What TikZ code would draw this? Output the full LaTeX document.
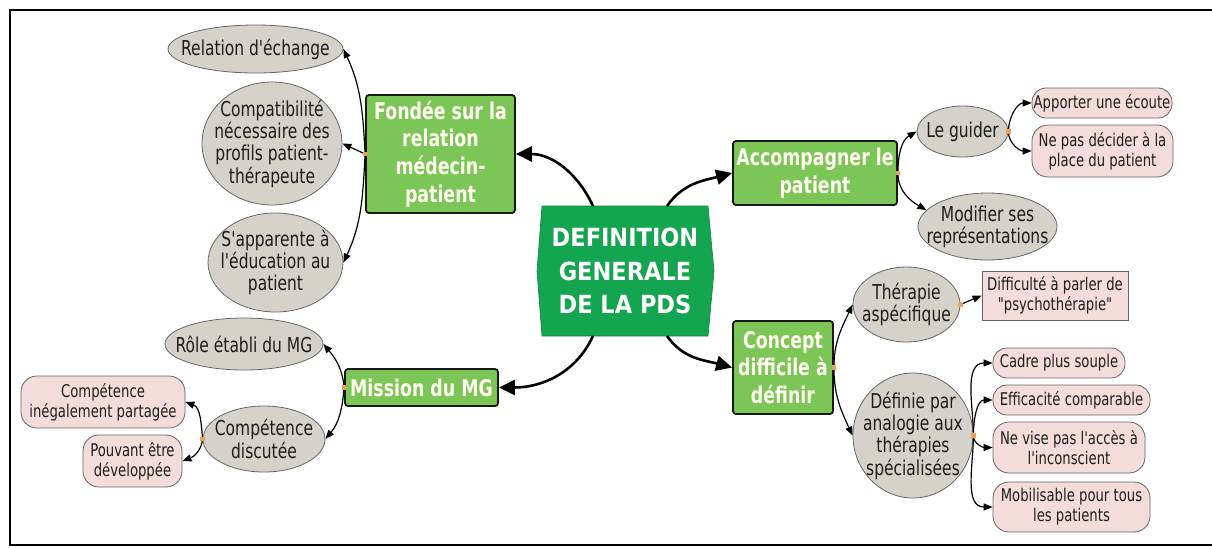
\documentclass[tikz,border=0pt]{standalone}
\usepackage{fontspec}
\setmainfont{DejaVu Sans Condensed}[FakeStretch=0.84, Ligatures=TeXOff]
\newfontfamily\centerfont{DejaVu Sans Condensed}[Ligatures=TeXOff]
\usetikzlibrary{arrows.meta,shapes.geometric}
\definecolor{cgreen}{HTML}{13A54F}
\definecolor{lgreen}{HTML}{7CC657}
\definecolor{egray}{HTML}{D5D2C9}
\definecolor{pinkf}{HTML}{F4DCDB}
\definecolor{dotor}{HTML}{F0A050}
\definecolor{txtg}{HTML}{1E1E1E}
\tikzset{
  greenbox/.style={draw=black!90, line width=1.8pt, fill=lgreen, rounded corners=3pt,
    text=white!94!yellow, font=\fontsize{23}{27.7}\selectfont\bfseries, align=center, inner sep=2pt},
  ell/.style={ellipse, draw=black!60, line width=0.8pt, fill=egray, inner sep=0pt},
  elltext/.style={text=txtg, font=\fontsize{20.5}{22.3}\selectfont, align=center, inner sep=0pt},
  pinkbox/.style={draw=black!60, line width=0.8pt, fill=pinkf, text=txtg,
    font=\fontsize{17.5}{20}\selectfont, align=center, inner sep=0pt, rounded corners=13pt},
  mainarrow/.style={line width=2.6pt, -{Triangle[length=16pt,width=15pt]}},
  subarrow/.style={line width=1.2pt, -{Triangle[length=9pt,width=7pt]}},
  odot/.style={fill=dotor, minimum size=4.5pt, inner sep=0pt}
}
\begin{document}
\begin{tikzpicture}[x=1pt,y=1pt]
\useasboundingbox (0,0) rectangle (1212,-547);
\fill[white] (0,0) rectangle (1212,-547);
\draw[line width=1.6pt] (1212,-10) -- (10,-10) -- (10,-545) -- (1212,-545);

% central
\draw[fill=cgreen, draw=cgreen!80!black, line width=0.6pt]
  (542,-206) -- (708,-206) -- (714,-271) -- (708,-336) -- (542,-336) -- (537,-271) -- cycle;
\node[text=white, font=\centerfont\fontsize{25}{33.5}\selectfont\bfseries, align=center] (center) at (625,-271)
  {DEFINITION\\GENERALE\\DE LA PDS};
\coordinate (ctl) at (593,-206);
\coordinate (ctr) at (667,-206);
\coordinate (cbl) at (593,-336);
\coordinate (cbr) at (667,-336);

% green nodes
\node[greenbox, minimum width=149pt, minimum height=118pt] (fondee) at (440.5,-154) {Fondée sur la\\relation\\médecin-\\patient};
\node[greenbox, minimum width=164pt, minimum height=64pt] (accomp) at (815,-173) {Accompagner le\\patient};
\node[greenbox, minimum width=100pt, minimum height=93pt] (concept) at (783,-367.5) {Concept\\difficile à\\définir};
\node[greenbox, minimum width=153pt, minimum height=37pt] (mission) at (421.5,-387.5) {Mission du MG};

% ellipses (shape first, text on top)
\node[ell, minimum width=175pt, minimum height=48pt] (rel) at (255.5,-49) {};
\node[elltext] (relt) at (rel) {Relation d'échange};
\node[ell, minimum width=140pt, minimum height=123pt] (compat) at (272,-143.5) {};
\node[elltext] (compatt) at (compat) {Compatibilité\\nécessaire des\\profils patient-\\thérapeute};
\node[ell, minimum width=135pt, minimum height=99pt] (sapp) at (275.5,-262.5) {};
\node[elltext] (sappt) at (sapp) {S'apparente à\\l'éducation au\\patient};
\node[ell, minimum width=158pt, minimum height=52pt] (role) at (244,-344) {};
\node[elltext] (rolet) at (role) {Rôle établi du MG};
\node[ell, minimum width=122pt, minimum height=66pt] (compd) at (264,-439) {};
\node[elltext] (compdt) at (compd) {Compétence\\discutée};
\node[ell, minimum width=91pt, minimum height=51pt] (guider) at (962.5,-131.5) {};
\node[elltext] (guidert) at (guider) {Le guider};
\node[ell, minimum width=139pt, minimum height=67pt] (modif) at (987.5,-226.5) {};
\node[elltext] (modift) at (modif) {Modifier ses\\représentations};
\node[ell, minimum width=107pt, minimum height=75pt] (ther) at (906.5,-304.5) {};
\node[elltext] (thert) at (ther) {Thérapie\\aspécifique};
\node[ell, minimum width=120pt, minimum height=125pt] (defn) at (913,-435.5) {};
\node[elltext] (defnt) at (defn) {Définie par\\analogie aux\\thérapies\\spécialisées};

% pink
\node[pinkbox, minimum width=140pt, minimum height=30pt, rounded corners=14pt] (apport) at (1102,-103) {Apporter une écoute};
\node[pinkbox, minimum width=141pt, minimum height=52pt, rounded corners=16pt] (nepas) at (1102.5,-151) {Ne pas décider à la\\place du patient};
\node[pinkbox, minimum width=146pt, minimum height=49pt, rounded corners=0pt] (diff) at (1055,-295.5) {Difficulté à parler de\\"psychothérapie"};
\node[pinkbox, minimum width=132pt, minimum height=30pt, rounded corners=14pt] (cadre) at (1059,-363) {Cadre plus souple};
\node[pinkbox, minimum width=157pt, minimum height=30pt, rounded corners=14pt] (effic) at (1071.5,-400) {Efficacité comparable};
\node[pinkbox, minimum width=152pt, minimum height=51pt, rounded corners=16pt] (nevise) at (1069,-447.5) {Ne vise pas l'accès à\\l'inconscient};
\node[pinkbox, minimum width=157pt, minimum height=50pt, rounded corners=16pt] (mobil) at (1071.5,-507) {Mobilisable pour tous\\les patients};
\node[pinkbox, minimum width=164pt, minimum height=52pt, rounded corners=16pt] (cip) at (103,-402) {Compétence\\inégalement partagée};
\node[pinkbox, minimum width=99pt, minimum height=52pt, rounded corners=16pt] (pouv) at (132.5,-461) {Pouvant être\\développée};

% main connectors
\draw[mainarrow] (ctl) to[out=115,in=0] (fondee.east);
\draw[mainarrow] (ctr) to[out=55,in=195] (accomp.west);
\draw[mainarrow] (cbl) to[out=-115,in=0] (mission.east);
\draw[mainarrow] (cbr) to[out=-55,in=165] (concept.west);

% branch dots
\node[odot] (dF) at (fondee.west) {};
\node[odot] (dM) at (mission.west) {};
\node[odot] (dC) at (compd.west) {};
\node[odot] (dA) at (accomp.east) {};
\node[odot] (dG) at (guider.east) {};
\node[odot] (dK) at (concept.east) {};
\node[odot] (dT) at (ther.east) {};
\node[odot] (dD) at (defn.east) {};

% sub connectors
\draw[subarrow] (dF.center) to[out=93,in=-65] (rel.east);
\draw[subarrow] (dF.center) -- (compat.east);
\draw[subarrow] (dF.center) to[out=-93,in=65] (sapp.east);
\draw[subarrow] (dM.center) to[out=95,in=-50] (role.east);
\draw[subarrow] (dM.center) to[out=-95,in=50] (compd.east);
\draw[subarrow] (dC.center) to[out=95,in=-20] (cip.east);
\draw[subarrow] (dC.center) to[out=-95,in=20] (pouv.east);
\draw[subarrow] (dA.center) to[out=90,in=-150] (guider.west);
\draw[subarrow] (dA.center) to[out=-90,in=150] (modif.165);
\draw[subarrow] (dG.center) to[out=90,in=180] (apport.west);
\draw[subarrow] (dG.center) to[out=-90,in=180] (nepas.west);
\draw[subarrow] (dK.center) to[out=90,in=-115] (ther.west);
\draw[subarrow] (dK.center) to[out=-90,in=115] (defn.west);
\draw[subarrow] (dT.center) -- (diff.west);
\draw[subarrow] (dD.center) to[out=90,in=180] (cadre.west);
\draw[subarrow] (dD.center) to[out=90,in=180] (effic.west);
\draw[subarrow] (dD.center) to[out=-90,in=180] (nevise.west);
\draw[subarrow] (dD.center) to[out=-90,in=180] (mobil.west);
% redraw dots above lines
\foreach \d in {dF,dM,dC,dA,dG,dK,dT,dD} \fill[dotor] ([shift={(-2.2pt,-2.2pt)}]\d.center) rectangle ([shift={(2.2pt,2.2pt)}]\d.center);
\end{tikzpicture}
\end{document}
